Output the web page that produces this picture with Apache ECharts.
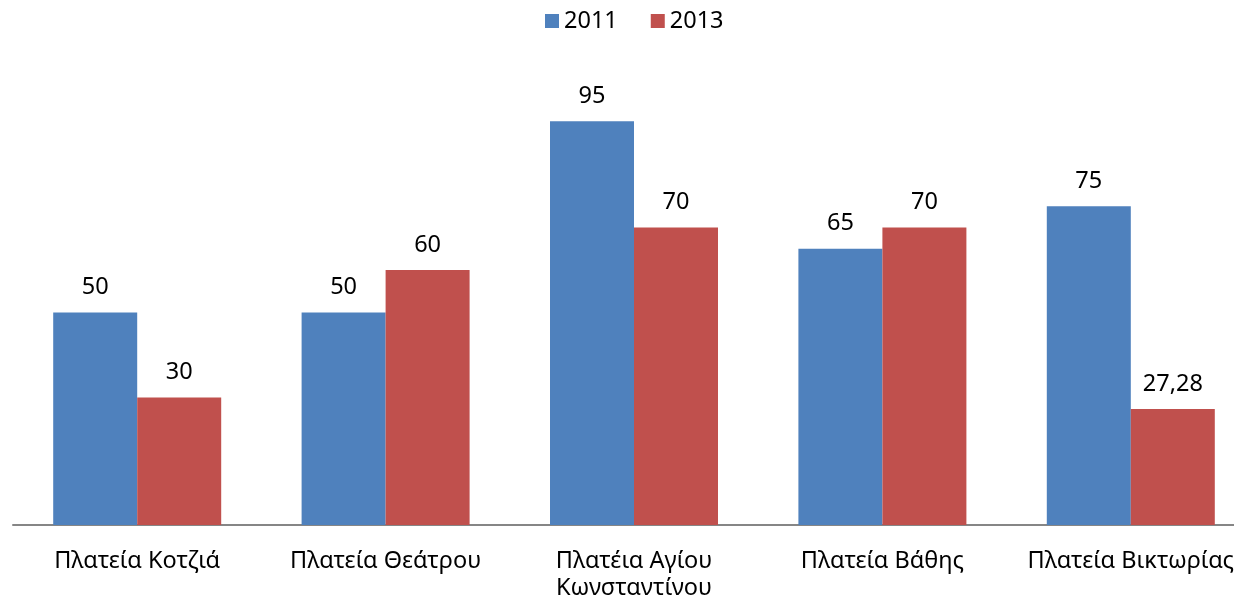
<!DOCTYPE html>
<html>
<head>
<meta charset="utf-8">
<script src="https://cdn.jsdelivr.net/npm/echarts@6/dist/echarts.min.js"></script>
<style>
    html, body { margin: 0; padding: 0; background: #fff; }
    #chart { width: 1234px; height: 606px; }
</style>
</head>
<body>
<div id="chart"></div>
<script>
// δεδομένα
var categories = ['Πλατεία Κοτζιά', 'Πλατεία Θεάτρου', 'Πλατέια Αγίου\nΚωνσταντίνου', 'Πλατεία Βάθης', 'Πλατεία Βικτωρίας'];
var seriesNames = ['2011', '2013'];
var values2011 = [50, 50, 95, 65, 75];
var values2013 = [30, 60, 70, 70, 27.28];

var font = 'Noto Sans';
var fs = 23.5;

function labelFmt(p) {
    return String(p.value).replace('.', ',');   // δεκαδικό με κόμμα
}

var chart = echarts.init(document.getElementById('chart'));
var option = {
    backgroundColor: '#fff',
    animation: false,
    textStyle: { fontFamily: font },
    legend: {
        left: 545,
        top: 9,
        padding: 0,
        itemWidth: 14,
        itemHeight: 14,
        itemGap: 33,
        icon: 'rect',
        textStyle: { fontFamily: font, fontSize: fs, color: '#000' },
        data: seriesNames
    },
    grid: {
        left: 13,
        top: 100,
        right: -21,
        bottom: 81,
        containLabel: false,
        outerBoundsMode: 'none'
    },
    xAxis: {
        type: 'category',
        data: categories,
        axisLine: { lineStyle: { color: '#868686', width: 2 } },
        axisTick: { show: false },
        axisLabel: {
            fontFamily: font,
            fontSize: fs,
            lineHeight: 27,
            color: '#000',
            margin: 23,
            interval: 0
        }
    },
    yAxis: {
        type: 'value',
        min: 0,
        max: 100,
        show: false,
        splitLine: { show: false }
    },
    series: [{
        name: seriesNames[0],
        type: 'bar',
        barWidth: 84,
        barGap: '0%',
        itemStyle: { color: '#4F81BD' },
        label: {
            show: true, position: 'top', distance: 13,
            fontFamily: font, fontSize: fs, color: '#000',
            formatter: labelFmt
        },
        data: values2011
    }, {
        name: seriesNames[1],
        type: 'bar',
        barWidth: 84,
        barGap: '0%',
        itemStyle: { color: '#C0504D' },
        label: {
            show: true, position: 'top', distance: 13,
            fontFamily: font, fontSize: fs, color: '#000',
            formatter: labelFmt
        },
        data: values2013
    }]
};
chart.setOption(option);
</script>
</body>
</html>
